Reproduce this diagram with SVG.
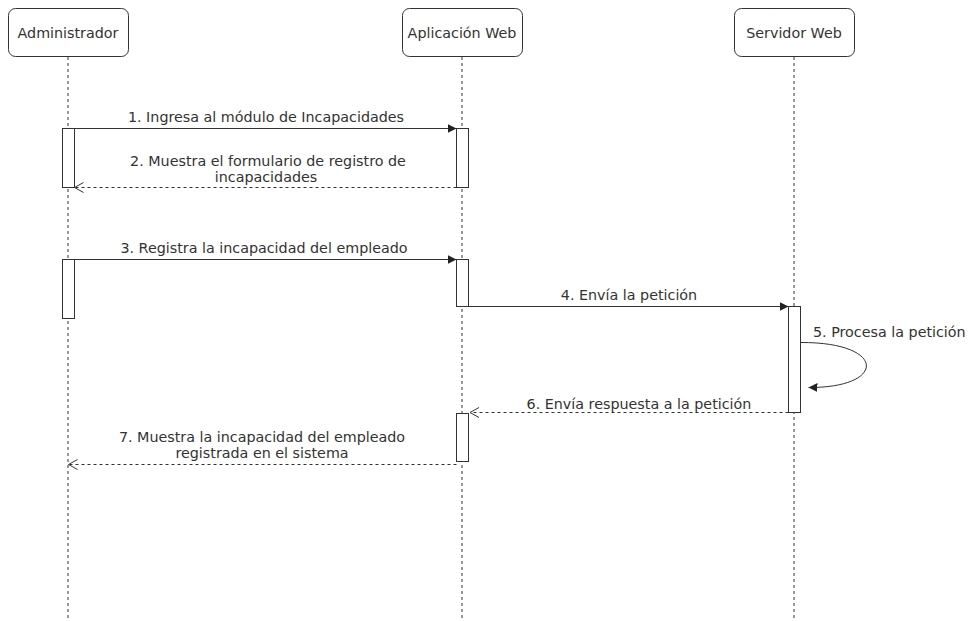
<svg xmlns="http://www.w3.org/2000/svg" width="971" height="621" viewBox="0 0 971 621">
<defs>
<style>
text{font-family:"DejaVu Sans",Verdana,sans-serif;font-size:14.3px;fill:#333}
.mid{text-anchor:middle}
.box{fill:#fff;stroke:#333;stroke-width:1}
.life{stroke:#333;stroke-width:1;stroke-dasharray:3 3;fill:none}
.act{fill:#fff;stroke:#333;stroke-width:1}
.msg{stroke:#333;stroke-width:1;fill:none}
.ret{stroke:#333;stroke-width:1;fill:none;stroke-dasharray:3 3}
</style>
<marker id="filled" markerWidth="12" markerHeight="12" refX="9" refY="4.5" orient="auto" markerUnits="userSpaceOnUse">
<path d="M0,0 L9,4.5 L0,9 Z" fill="#222"/>
</marker>
<marker id="open" markerWidth="12" markerHeight="12" refX="10" refY="5" orient="auto" markerUnits="userSpaceOnUse">
<path d="M1,0 L10,5 L1,10" fill="none" stroke="#333" stroke-width="1"/>
</marker>
</defs>
<rect width="971" height="621" fill="#fff"/>
<g id="lifelines">
<line class="life" x1="68" y1="57" x2="68" y2="621"/>
<line class="life" x1="462" y1="57" x2="462" y2="621"/>
<line class="life" x1="794" y1="57" x2="794" y2="621"/>
</g>
<g id="administrador">
<rect class="box" x="8.5" y="8.5" width="120" height="48" rx="7"/>
<text class="mid" x="68" y="38">Administrador</text>
</g>
<g id="aplicacion">
<rect class="box" x="402.5" y="8.5" width="120" height="48" rx="7"/>
<text class="mid" x="462" y="38">Aplicación Web</text>
</g>
<g id="servidor">
<rect class="box" x="734.5" y="8.5" width="120" height="48" rx="7"/>
<text class="mid" x="794" y="38">Servidor Web</text>
</g>
<g id="activations">
<rect class="act" x="62.5" y="128.5" width="12" height="59"/>
<rect class="act" x="456.5" y="128.5" width="12" height="59"/>
<rect class="act" x="62.5" y="259.5" width="12" height="59"/>
<rect class="act" x="456.5" y="259.5" width="12" height="47"/>
<rect class="act" x="788.5" y="306.5" width="12" height="106"/>
<rect class="act" x="456.5" y="413.5" width="12" height="48"/>
</g>
<g id="connectors">
<line class="msg" x1="74.5" y1="128.5" x2="456.5" y2="128.5" marker-end="url(#filled)"/>
<line class="ret" x1="456.5" y1="187.5" x2="74.5" y2="187.5" marker-end="url(#open)"/>
<line class="msg" x1="74.5" y1="259.5" x2="456.5" y2="259.5" marker-end="url(#filled)"/>
<line class="msg" x1="456.5" y1="306.5" x2="788.5" y2="306.5" marker-end="url(#filled)"/>
<path class="msg" d="M800.5,342.5 C887,342 887,388 808.5,387.5" marker-end="url(#filled)"/>
<line class="ret" x1="788.5" y1="412.5" x2="470" y2="412.5" marker-end="url(#open)"/>
<line class="ret" x1="456.5" y1="464.5" x2="68.5" y2="464.5" marker-end="url(#open)"/>
</g>
<g id="labels">
<text class="mid" x="266" y="122">1. Ingresa al módulo de Incapacidades</text>
<text class="mid" x="268" y="166">2. Muestra el formulario de registro de</text>
<text class="mid" x="266" y="182">incapacidades</text>
<text class="mid" x="264" y="253">3. Registra la incapacidad del empleado</text>
<text class="mid" x="629" y="300">4. Envía la petición</text>
<text x="813" y="337">5. Procesa la petición</text>
<text class="mid" x="639" y="409">6. Envía respuesta a la petición</text>
<text class="mid" x="262" y="442">7. Muestra la incapacidad del empleado</text>
<text class="mid" x="262" y="458">registrada en el sistema</text>
</g>
</svg>
